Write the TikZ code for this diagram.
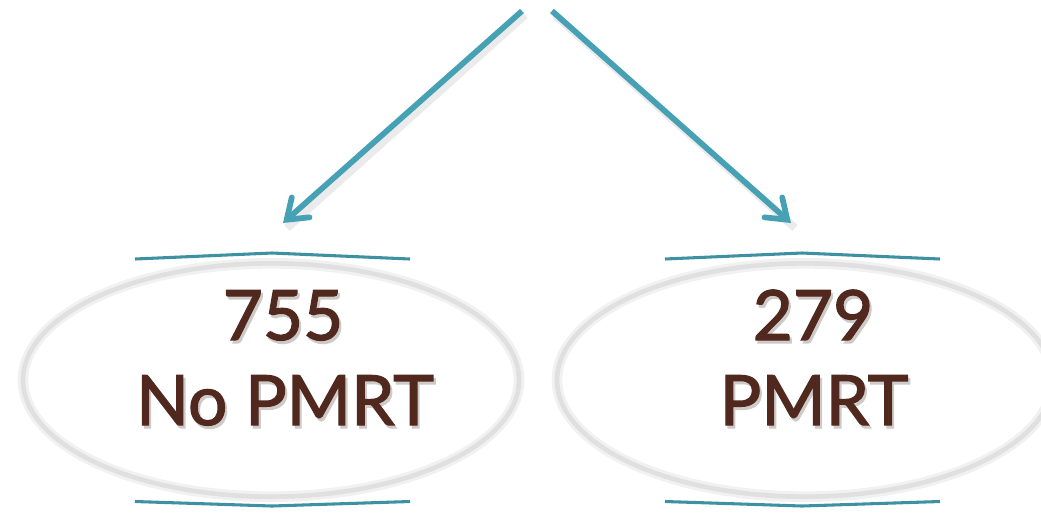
\documentclass[tikz,border=0pt]{standalone}
\usepackage{fontspec}
\setmainfont{Lato}
\newfontfamily\gillish{Lato}[FakeBold=1.8]
\usetikzlibrary{shapes.geometric,arrows.meta}
\definecolor{teal1}{RGB}{70,161,181}
\definecolor{teal2}{RGB}{62,145,162}
\definecolor{brown1}{RGB}{80,40,30}
\definecolor{ring}{RGB}{224,224,224}
\definecolor{ringsoft}{RGB}{241,241,241}
\definecolor{txtshadow}{RGB}{206,202,200}
\newcommand{\shadowed}[1]{\leavevmode\rlap{\kern1.6pt\raisebox{-2.3pt}{\textcolor{txtshadow}{#1}}}#1}
\tikzset{
  ovalsoft/.style={ellipse, draw=ringsoft, line width=8pt, minimum width=372pt, minimum height=175pt, inner sep=0pt},
  oval/.style={ellipse, draw=ring, line width=3.5pt, minimum width=372pt, minimum height=175pt, inner sep=0pt},
  bigtext/.style={font=\gillish\fontsize{52}{62}\selectfont, text=brown1, anchor=base, inner sep=0pt},
  rule/.style={draw=teal2, line width=2.3pt},
  arrowline/.style={draw=teal1, line width=4.3pt, -{Straight Barb[length=14pt, width=20pt, line cap=round]}},
  arrowshadow/.style={draw=black, opacity=0.08, line width=6pt}
}
\begin{document}
\begin{tikzpicture}[x=0.75pt, y=-0.75pt]
\useasboundingbox (0,0) rectangle (1041,512);
% ellipses
\node[ovalsoft] (Ls) at (271,380) {};
\node[oval] (L) at (271,380) {};
\node[ovalsoft] (Rs) at (805,380) {};
\node[oval] (R) at (805,380) {};
% rules
\path[rule] (135,259) -- (272,253) -- (410,259);
\path[rule] (135,501.5) -- (272,506) -- (410,501.5);
\path[rule] (665,259) -- (802,253) -- (940,259);
\path[rule] (665,501.5) -- (802,506) -- (940,501.5);
% text
\node[bigtext] (Ln) at (283,340) {\shadowed{755}};
\node[bigtext] (Lt) at (285,425) {\shadowed{No PMRT}};
\node[bigtext] (Rn) at (813,340) {\shadowed{279}};
\node[bigtext] (Rt) at (814,425) {\shadowed{PMRT}};
% arrows
\coordinate (s1) at (522,11);
\coordinate (e1) at (283,223);
\coordinate (s2) at (552,11);
\coordinate (e2) at (791,223);
\coordinate (s1b) at (525,15);
\coordinate (e1b) at (287,228);
\coordinate (s2b) at (555,15);
\coordinate (e2b) at (795,228);
\path[arrowshadow] (s1b) -- (e1b);
\path[arrowshadow] (s2b) -- (e2b);
\path[arrowline] (s1) -- (e1);
\path[arrowline] (s2) -- (e2);
\end{tikzpicture}
\end{document}
